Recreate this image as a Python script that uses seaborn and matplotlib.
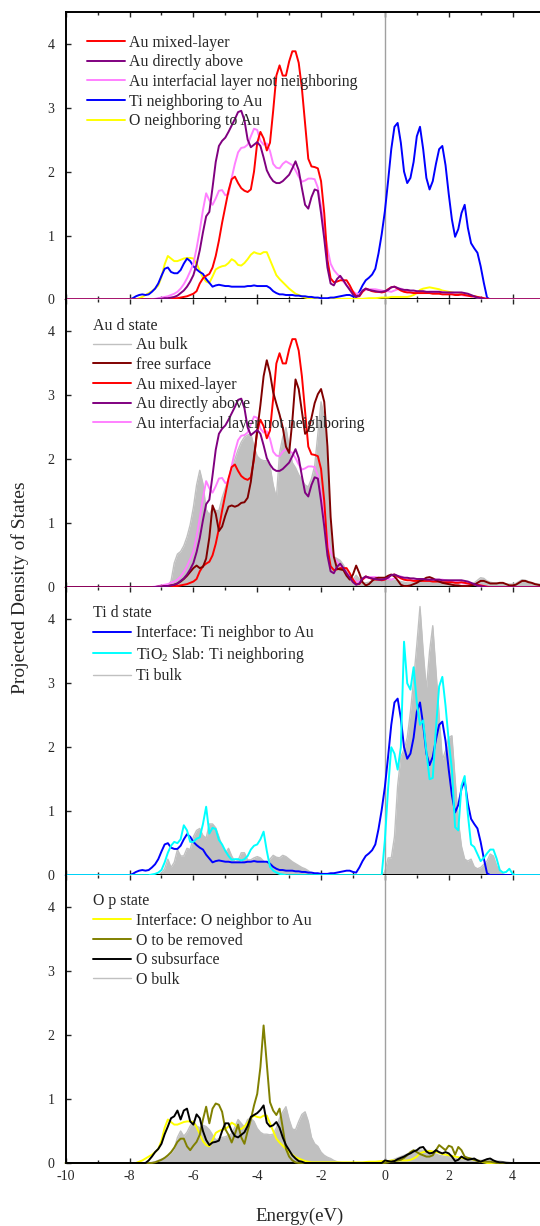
import numpy as np
import pandas as pd
import matplotlib
matplotlib.use("Agg")
import matplotlib.pyplot as plt
from matplotlib.ticker import MultipleLocator
import seaborn as sns

# energy grid (eV), 0.1 eV steps; everything below -8 eV is zero
energy = np.round(np.arange(-10.0, 4.95, 0.1), 1)
pad = [0.0] * 20

# ---- Au d states (rows: -8..-7.1, -7..-6.1, ..., 4..4.9) ----
au_mixed = pad + [
    0, 0, 0, 0, 0, 0, 0, 0, 0, 0,
    0.005, 0.01, 0.01, 0.015, 0.02, 0.02, 0.03, 0.04, 0.05, 0.07,
    0.09, 0.13, 0.25, 0.33, 0.37, 0.4, 0.5, 0.68, 0.92, 1.2,
    1.45, 1.7, 1.88, 1.92, 1.82, 1.74, 1.7, 1.68, 1.72, 2.0,
    2.45, 2.62, 2.52, 2.33, 2.45, 2.95, 3.5, 3.66, 3.5, 3.5,
    3.72, 3.88, 3.88, 3.7, 3.3, 2.75, 2.2, 2.08, 2.07, 2.05,
    1.85, 1.35, 0.62, 0.33, 0.27, 0.28, 0.3, 0.3, 0.3, 0.22,
    0.12, 0.05, 0.05, 0.12, 0.17, 0.15, 0.13, 0.12, 0.12, 0.11,
    0.12, 0.16, 0.19, 0.2, 0.17, 0.14, 0.12, 0.11, 0.11, 0.1,
    0.1, 0.1, 0.1, 0.1, 0.1, 0.09, 0.09, 0.09, 0.08, 0.08,
    0.08, 0.08, 0.07, 0.07, 0.08, 0.07, 0.06, 0.05, 0.05, 0.04,
    0.03, 0.02, 0.01, 0, 0, 0, 0, 0, 0, 0,
    0, 0, 0, 0, 0, 0, 0, 0, 0, 0,
]
au_above = pad + [
    0, 0, 0, 0, 0, 0, 0, 0, 0.005, 0.01,
    0.01, 0.02, 0.02, 0.03, 0.04, 0.06, 0.1, 0.14, 0.2, 0.28,
    0.38, 0.55, 0.77, 1.05, 1.3, 1.37, 1.75, 2.15, 2.4, 2.48,
    2.53, 2.62, 2.72, 2.82, 2.93, 2.95, 2.8, 2.5, 2.38, 2.42,
    2.46, 2.4, 2.22, 2.02, 1.92, 1.85, 1.82, 1.82, 1.85, 1.9,
    1.95, 2.05, 2.16, 2.02, 1.74, 1.48, 1.42, 1.6, 1.72, 1.7,
    1.35, 0.95, 0.5, 0.25, 0.22, 0.32, 0.37, 0.3, 0.22, 0.15,
    0.08, 0.04, 0.06, 0.14, 0.17, 0.15, 0.14, 0.13, 0.12, 0.12,
    0.13, 0.15, 0.19, 0.2, 0.18, 0.16, 0.15, 0.15, 0.14, 0.14,
    0.13, 0.13, 0.13, 0.12, 0.12, 0.12, 0.12, 0.12, 0.11, 0.11,
    0.11, 0.11, 0.11, 0.11, 0.11, 0.1, 0.09, 0.07, 0.05, 0.03,
    0.02, 0.01, 0, 0, 0, 0, 0, 0, 0, 0,
    0, 0, 0, 0, 0, 0, 0, 0, 0, 0,
]
au_interfacial = pad + [
    0, 0, 0, 0, 0, 0, 0, 0.005, 0.01, 0.02,
    0.03, 0.04, 0.05, 0.07, 0.09, 0.12, 0.17, 0.24, 0.33, 0.44,
    0.56, 0.8, 1.08, 1.4, 1.66, 1.55, 1.48, 1.58, 1.7, 1.71,
    1.63, 1.65, 1.9, 2.12, 2.3, 2.37, 2.38, 2.42, 2.55, 2.67,
    2.65, 2.48, 2.42, 2.44, 2.32, 2.12, 2.06, 2.05, 2.12, 2.16,
    2.13, 2.1, 2.02, 1.92, 1.84, 1.86, 1.89, 1.89, 1.88, 1.75,
    1.45, 1.1, 0.8, 0.56, 0.46, 0.4, 0.35, 0.28, 0.22, 0.17,
    0.13, 0.09, 0.09, 0.13, 0.15, 0.16, 0.16, 0.16, 0.15, 0.14,
    0.13, 0.13, 0.12, 0.14, 0.16, 0.17, 0.15, 0.13, 0.11, 0.11,
    0.11, 0.11, 0.11, 0.11, 0.12, 0.12, 0.12, 0.12, 0.12, 0.11,
    0.1, 0.09, 0.08, 0.08, 0.07, 0.06, 0.06, 0.05, 0.04, 0.03,
    0.03, 0.02, 0.01, 0, 0, 0, 0, 0, 0, 0,
    0, 0, 0, 0, 0, 0, 0, 0, 0, 0,
]
free_surface = pad + [
    0, 0, 0, 0, 0, 0, 0, 0, 0.005, 0.01,
    0.01, 0.02, 0.02, 0.03, 0.04, 0.06, 0.09, 0.13, 0.18, 0.24,
    0.3, 0.34, 0.3, 0.32, 0.45, 0.78, 1.28, 1.15, 0.88, 0.95,
    1.12, 1.26, 1.28, 1.26, 1.28, 1.32, 1.33, 1.4, 1.65, 2.05,
    2.45, 2.85, 3.3, 3.55, 3.35, 3.05, 2.87, 2.7, 2.5, 2.2,
    2.1, 2.6, 3.25, 3.1, 2.75, 2.4, 2.45, 2.65, 2.88, 3.02,
    3.1, 2.9, 2.2, 1.1, 0.48, 0.29, 0.28, 0.27, 0.18, 0.12,
    0.2, 0.34, 0.22, 0.08, 0.03, 0.05, 0.1, 0.14, 0.15, 0.15,
    0.15, 0.18, 0.2, 0.17, 0.11, 0.04, 0.02, 0.02, 0.03, 0.05,
    0.07, 0.1, 0.12, 0.15, 0.16, 0.14, 0.11, 0.09, 0.07, 0.06,
    0.05, 0.04, 0.03, 0.03, 0.02, 0.02, 0.02, 0.03, 0.04, 0.07,
    0.1, 0.1, 0.08, 0.06, 0.06, 0.06, 0.07, 0.07, 0.05, 0.03,
    0.03, 0.04, 0.07, 0.1, 0.1, 0.08, 0.07, 0.05, 0.04, 0.03,
]
au_bulk = pad + [
    0, 0, 0, 0, 0, 0, 0, 0, 0.005, 0.01,
    0.01, 0.02, 0.02, 0.1, 0.38, 0.52, 0.56, 0.65, 0.79, 0.98,
    1.25, 1.6, 1.83, 1.62, 1.22, 1.13, 1.25, 1.2, 1.2, 1.4,
    1.55, 1.7, 1.85, 2.0, 2.15, 2.27, 2.35, 2.38, 2.4, 2.2,
    2.05, 2.0, 1.98, 1.98, 1.9, 1.6, 1.4, 2.1, 2.35, 2.5,
    2.2, 1.95, 1.87, 1.76, 1.68, 1.6, 1.57, 1.7, 1.9, 2.4,
    2.9, 2.65, 1.8, 0.8, 0.48, 0.45, 0.42, 0.35, 0.25, 0.19,
    0.12, 0.19, 0.13, 0.07, 0.07, 0.08, 0.1, 0.12, 0.14, 0.15,
    0.14, 0.13, 0.12, 0.11, 0.1, 0.09, 0.08, 0.07, 0.07, 0.07,
    0.08, 0.09, 0.1, 0.11, 0.11, 0.1, 0.09, 0.08, 0.08, 0.07,
    0.06, 0.05, 0.04, 0.03, 0.03, 0.03, 0.04, 0.05, 0.07, 0.11,
    0.15, 0.14, 0.1, 0.08, 0.07, 0.07, 0.06, 0.06, 0.05, 0.05,
    0.05, 0.06, 0.09, 0.12, 0.11, 0.09, 0.07, 0.06, 0.05, 0.05,
]

# ---- Ti d states ----
ti_interface = pad + [
    0, 0.02, 0.05, 0.07, 0.08, 0.07, 0.08, 0.12, 0.17, 0.25,
    0.37, 0.48, 0.5, 0.43, 0.41, 0.41, 0.46, 0.56, 0.64, 0.6,
    0.52, 0.47, 0.43, 0.4, 0.32, 0.26, 0.2, 0.22, 0.23, 0.22,
    0.21, 0.21, 0.2, 0.2, 0.2, 0.2, 0.2, 0.21, 0.21, 0.22,
    0.21, 0.21, 0.21, 0.21, 0.18, 0.13, 0.1, 0.08, 0.08, 0.07,
    0.07, 0.07, 0.06, 0.06, 0.05, 0.05, 0.04, 0.04, 0.03, 0.03,
    0.02, 0.02, 0.02, 0.03, 0.03, 0.04, 0.05, 0.06, 0.07, 0.07,
    0.05, 0.04, 0.12, 0.22, 0.3, 0.34, 0.39, 0.48, 0.72, 1.02,
    1.38, 1.85, 2.35, 2.7, 2.76, 2.45, 2.0, 1.82, 1.9, 2.15,
    2.55, 2.7, 2.35, 1.9, 1.72, 1.85, 2.12, 2.35, 2.4, 2.1,
    1.65, 1.25, 0.98, 1.1, 1.35, 1.48, 1.12, 0.88, 0.8, 0.73,
    0.52, 0.26, 0.03, 0, 0, 0, 0, 0, 0, 0,
    0, 0, 0, 0, 0, 0, 0, 0, 0, 0,
]
ti_slab = pad + [
    0, 0, 0, 0, 0, 0, 0, 0.01, 0.02, 0.04,
    0.08, 0.2, 0.35, 0.46, 0.52, 0.5, 0.56, 0.78, 0.7, 0.52,
    0.52, 0.57, 0.59, 0.8, 1.07, 0.65, 0.74, 0.72, 0.55, 0.48,
    0.38, 0.3, 0.24, 0.25, 0.25, 0.23, 0.25, 0.3, 0.4, 0.46,
    0.48, 0.56, 0.68, 0.38, 0.13, 0.07, 0.04, 0.02, 0.01, 0,
    0, 0, 0, 0, 0, 0, 0, 0, 0, 0,
    0, 0, 0, 0, 0, 0, 0, 0, 0, 0,
    0, 0, 0, 0, 0, 0, 0, 0, 0, 0,
    0.55, 1.35, 2.0, 1.9, 1.65, 2.0, 3.65, 3.0, 2.9, 3.25,
    2.7, 2.35, 2.42, 1.93, 1.5, 1.52, 2.3, 2.95, 3.1, 2.65,
    2.1, 1.65, 0.75, 0.7, 1.4, 1.55, 0.95, 0.48, 0.44, 0.33,
    0.22, 0.27, 0.34, 0.4, 0.4, 0.26, 0.08, 0.04, 0.05, 0.1,
    0.02, 0, 0, 0, 0, 0, 0, 0, 0, 0,
]
ti_bulk = pad + [
    0, 0, 0, 0, 0, 0, 0, 0, 0, 0,
    0.03, 0.1, 0.25, 0.12, 0.2, 0.4, 0.3, 0.3, 0.42, 0.4,
    0.6, 0.7, 0.73, 0.62, 0.58, 0.8, 0.8, 0.74, 0.6, 0.45,
    0.34, 0.42, 0.3, 0.21, 0.23, 0.35, 0.35, 0.24, 0.24, 0.27,
    0.29, 0.27, 0.22, 0.19, 0.25, 0.31, 0.28, 0.27, 0.31, 0.29,
    0.25, 0.21, 0.18, 0.15, 0.12, 0.1, 0.07, 0.03, 0.01, 0,
    0, 0, 0, 0, 0, 0, 0, 0, 0, 0,
    0, 0, 0, 0, 0, 0, 0, 0, 0, 0,
    0.05, 0.27, 0.27, 0.6, 1.4, 1.85, 1.97, 2.15, 2.55, 3.05,
    3.6, 4.2, 3.5, 2.9, 3.5, 3.9, 3.2, 2.5, 1.8, 1.95,
    2.15, 2.18, 1.5, 0.85, 0.45, 0.25, 0.22, 0.25, 0.13, 0.1,
    0.12, 0.17, 0.22, 0.33, 0.3, 0.15, 0.05, 0.02, 0, 0,
    0, 0, 0, 0, 0, 0, 0, 0, 0, 0,
]

# ---- O p states ----
o_interface = pad + [
    0, 0, 0, 0.02, 0.04, 0.07, 0.1, 0.13, 0.17, 0.22,
    0.35, 0.55, 0.68, 0.64, 0.6, 0.6, 0.62, 0.64, 0.65, 0.65,
    0.64, 0.56, 0.45, 0.34, 0.28, 0.26, 0.36, 0.47, 0.5, 0.52,
    0.53, 0.57, 0.63, 0.6, 0.54, 0.53, 0.57, 0.63, 0.7, 0.74,
    0.72, 0.71, 0.74, 0.74, 0.62, 0.5, 0.38, 0.32, 0.27, 0.22,
    0.17, 0.13, 0.09, 0.07, 0.05, 0.03, 0.02, 0.01, 0.01, 0.01,
    0.01, 0.01, 0.01, 0.01, 0.01, 0.01, 0.01, 0.01, 0.01, 0.01,
    0.01, 0.01, 0.01, 0.01, 0.015, 0.02, 0.02, 0.02, 0.025, 0.03,
    0.03, 0.03, 0.04, 0.04, 0.04, 0.04, 0.04, 0.04, 0.05, 0.07,
    0.1, 0.15, 0.17, 0.18, 0.19, 0.18, 0.17, 0.16, 0.14, 0.13,
    0.12, 0.11, 0.1, 0.09, 0.08, 0.07, 0.07, 0.06, 0.05, 0.04,
    0.02, 0.01, 0, 0, 0, 0, 0, 0, 0, 0,
    0, 0, 0, 0, 0, 0, 0, 0, 0, 0,
]
o_removed = pad + [
    0, 0, 0, 0, 0, 0, 0, 0, 0.01, 0.03,
    0.05, 0.08, 0.12, 0.17, 0.24, 0.33, 0.38, 0.38, 0.26, 0.2,
    0.27, 0.33, 0.44, 0.68, 0.88, 0.62, 0.85, 0.93, 0.91, 0.8,
    0.53, 0.44, 0.32, 0.45, 0.6, 0.4, 0.3, 0.5, 0.68, 0.9,
    1.08, 1.5, 2.15, 1.55, 0.95, 0.82, 0.75, 0.85, 0.55, 0.22,
    0.1, 0.04, 0.01, 0, 0, 0, 0, 0, 0, 0,
    0, 0, 0, 0, 0, 0, 0, 0, 0, 0,
    0, 0, 0, 0, 0, 0, 0, 0, 0, 0,
    0, 0.01, 0.02, 0.03, 0.04, 0.05, 0.08, 0.12, 0.17, 0.2,
    0.17, 0.14, 0.12, 0.1, 0.1, 0.12, 0.2, 0.28, 0.24, 0.2,
    0.27, 0.25, 0.13, 0.25, 0.2, 0.1, 0.08, 0.07, 0.05, 0.03,
    0.02, 0.02, 0.02, 0.02, 0.01, 0, 0, 0, 0, 0,
    0, 0, 0, 0, 0, 0, 0, 0, 0, 0,
]
o_subsurface = pad + [
    0, 0, 0, 0, 0, 0, 0.04, 0.1, 0.17, 0.22,
    0.3, 0.45, 0.57, 0.7, 0.73, 0.82, 0.68, 0.82, 0.85, 0.65,
    0.6, 0.76, 0.7, 0.5, 0.36, 0.28, 0.32, 0.33, 0.35, 0.5,
    0.62, 0.62, 0.5, 0.42, 0.4, 0.44, 0.48, 0.58, 0.72, 0.75,
    0.78, 0.83, 0.9, 0.63, 0.57, 0.59, 0.64, 0.55, 0.4, 0.28,
    0.2, 0.12, 0.07, 0.03, 0.02, 0, 0, 0, 0, 0,
    0, 0, 0, 0, 0, 0, 0, 0, 0, 0,
    0, 0, 0, 0, 0, 0, 0, 0, 0, 0,
    0.04, 0.03, 0.02, 0.03, 0.06, 0.08, 0.1, 0.13, 0.15, 0.18,
    0.2, 0.24, 0.25, 0.18, 0.15, 0.16, 0.2, 0.17, 0.15, 0.17,
    0.15, 0.1, 0.03, 0.05, 0.1, 0.07, 0.05, 0.06, 0.07, 0.04,
    0.02, 0.04, 0.06, 0.07, 0.04, 0.02, 0.01, 0.01, 0, 0,
    0, 0, 0, 0, 0, 0, 0, 0, 0, 0,
]
o_bulk = pad + [
    0, 0, 0, 0, 0, 0, 0, 0.01, 0.02, 0.04,
    0.06, 0.08, 0.11, 0.15, 0.22, 0.4, 0.5, 0.42, 0.48, 0.58,
    0.66, 0.58, 0.55, 0.59, 0.57, 0.52, 0.44, 0.36, 0.38, 0.4,
    0.41, 0.43, 0.46, 0.56, 0.68, 0.62, 0.56, 0.68, 0.7, 0.65,
    0.54, 0.48, 0.45, 0.45, 0.44, 0.45, 0.55, 0.7, 0.8, 0.88,
    0.68, 0.53, 0.52, 0.65, 0.76, 0.8, 0.65, 0.4, 0.3, 0.26,
    0.17, 0.12, 0.09, 0.07, 0.04, 0.02, 0.01, 0, 0, 0,
    0, 0, 0, 0, 0, 0, 0, 0, 0, 0,
    0.01, 0.02, 0.04, 0.06, 0.08, 0.1, 0.12, 0.14, 0.16, 0.18,
    0.19, 0.2, 0.2, 0.2, 0.18, 0.16, 0.14, 0.12, 0.11, 0.1,
    0.1, 0.09, 0.07, 0.06, 0.05, 0.05, 0.05, 0.05, 0.05, 0.05,
    0.04, 0.04, 0.04, 0.04, 0.04, 0.03, 0.03, 0.02, 0.02, 0.01,
    0, 0, 0, 0, 0, 0, 0, 0, 0, 0,
]

df = pd.DataFrame({
    "energy": energy,
    "au_mixed": au_mixed, "au_above": au_above, "au_interfacial": au_interfacial,
    "free_surface": free_surface, "au_bulk": au_bulk,
    "ti_interface": ti_interface, "ti_slab": ti_slab, "ti_bulk": ti_bulk,
    "o_interface": o_interface, "o_removed": o_removed,
    "o_subsurface": o_subsurface, "o_bulk": o_bulk,
})

RED, PURPLE, PINK = "#ff0000", "#800080", "#ff80ff"
BLUE, YELLOW, DARKRED = "#0000ff", "#ffff00", "#800000"
CYAN, OLIVE, BLACK, GREY = "#00ffff", "#808000", "#000000", "#c0c0c0"

sns.set_style("ticks")
plt.rcParams["font.family"] = ["Liberation Serif", "DejaVu Serif"]
plt.rcParams["mathtext.fontset"] = "custom"
plt.rcParams["mathtext.rm"] = "Liberation Serif"
plt.rcParams["axes.unicode_minus"] = False
plt.rcParams["xtick.direction"] = "in"
plt.rcParams["ytick.direction"] = "in"

fig, axes = plt.subplots(4, 1, figsize=(5.4, 12.26), dpi=100, sharex=True)
fig.subplots_adjust(left=0.1217, right=1.0, bottom=0.0514, top=0.9905, hspace=0)

LW = 1.4


def curve(ax, col, color, label):
    sns.lineplot(data=df, x="energy", y=col, ax=ax, color=color, lw=LW,
                 label=label, estimator=None, clip_on=False, zorder=3)


def bulk(ax, col, label):
    ax.fill_between(df["energy"], df[col], color=GREY, lw=0, zorder=1)
    sns.lineplot(data=df, x="energy", y=col, ax=ax, color=GREY, lw=1.0,
                 label=label, estimator=None, zorder=1.2)


# panel 1
ax = axes[0]
curve(ax, "o_interface", YELLOW, "O neighboring to Au")
curve(ax, "ti_interface", BLUE, "Ti neighboring to Au")
curve(ax, "au_interfacial", PINK, "Au interfacial layer not neighboring")
curve(ax, "au_mixed", RED, "Au mixed-layer")
curve(ax, "au_above", PURPLE, "Au directly above")

# panel 2
ax = axes[1]
bulk(ax, "au_bulk", "Au bulk")
curve(ax, "au_interfacial", PINK, "Au interfacial layer not neighboring")
curve(ax, "au_mixed", RED, "Au mixed-layer")
curve(ax, "free_surface", DARKRED, "free surface")
curve(ax, "au_above", PURPLE, "Au directly above")

# panel 3
ax = axes[2]
bulk(ax, "ti_bulk", "Ti bulk")
curve(ax, "ti_interface", BLUE, "Interface: Ti neighbor to Au")
curve(ax, "ti_slab", CYAN, "TiO$_2$ Slab: Ti neighboring")

# panel 4
ax = axes[3]
bulk(ax, "o_bulk", "O bulk")
curve(ax, "o_interface", YELLOW, "Interface: O neighbor to Au")
curve(ax, "o_removed", OLIVE, "O to be removed")
curve(ax, "o_subsurface", BLACK, "O subsurface")

orders = [
    ["Au mixed-layer", "Au directly above", "Au interfacial layer not neighboring",
     "Ti neighboring to Au", "O neighboring to Au"],
    ["Au bulk", "free surface", "Au mixed-layer", "Au directly above",
     "Au interfacial layer not neighboring"],
    ["Interface: Ti neighbor to Au", "TiO$_2$ Slab: Ti neighboring", "Ti bulk"],
    ["Interface: O neighbor to Au", "O to be removed", "O subsurface", "O bulk"],
]
titles = [None, "Au d state", "Ti d state", "O p state"]

for i, ax in enumerate(axes):
    ax.axvline(0, color="#a0a0a0", lw=1.0, zorder=1.5)
    ax.set_xlim(-10, 4.86)
    ax.set_ylim(0, 4.5)
    ax.set_yticks([0, 1, 2, 3, 4])
    ax.xaxis.set_major_locator(MultipleLocator(2))
    ax.xaxis.set_minor_locator(MultipleLocator(1))
    ax.tick_params(axis="x", which="both", top=True, bottom=True,
                   labelbottom=(i == 3), labelsize=10, pad=5)
    ax.tick_params(axis="x", which="major", length=3.5, width=1)
    ax.tick_params(axis="x", which="minor", length=2.5, width=1)
    ax.tick_params(axis="y", which="major", length=3.5, width=1,
                   labelsize=10, pad=8, right=False)
    ax.set_xlabel("")
    ax.set_ylabel("")
    for side in ["left", "top", "bottom"]:
        ax.spines[side].set_linewidth(1.4)
        ax.spines[side].set_color("black")
    ax.spines["right"].set_visible(False)
    if i > 0:
        # the panel above already draws this edge; keep its zero-level curves visible
        ax.spines["top"].set_visible(False)

    handles, labels = ax.get_legend_handles_labels()
    lookup = dict(zip(labels, handles))
    hs = [lookup[l] for l in orders[i]]
    if titles[i] is None:
        anchor = (0.044, 0.92)
    else:
        anchor = (0.058, 0.937)
    ax.legend(hs, orders[i], title=titles[i], loc="upper left",
              bbox_to_anchor=anchor, borderaxespad=0, borderpad=0,
              frameon=False, fontsize=11.4, title_fontsize=11.4,
              handlelength=2.4, handletextpad=0.3, labelspacing=0.23,
              alignment="left")

fig.text(0.037, 0.5209, "Projected Density of States", rotation=90,
         ha="center", va="center", fontsize=14)
fig.text(0.555, 0.0075, "Energy(eV)", ha="center", va="center", fontsize=13.5)

fig.savefig("out.png", dpi=100)
